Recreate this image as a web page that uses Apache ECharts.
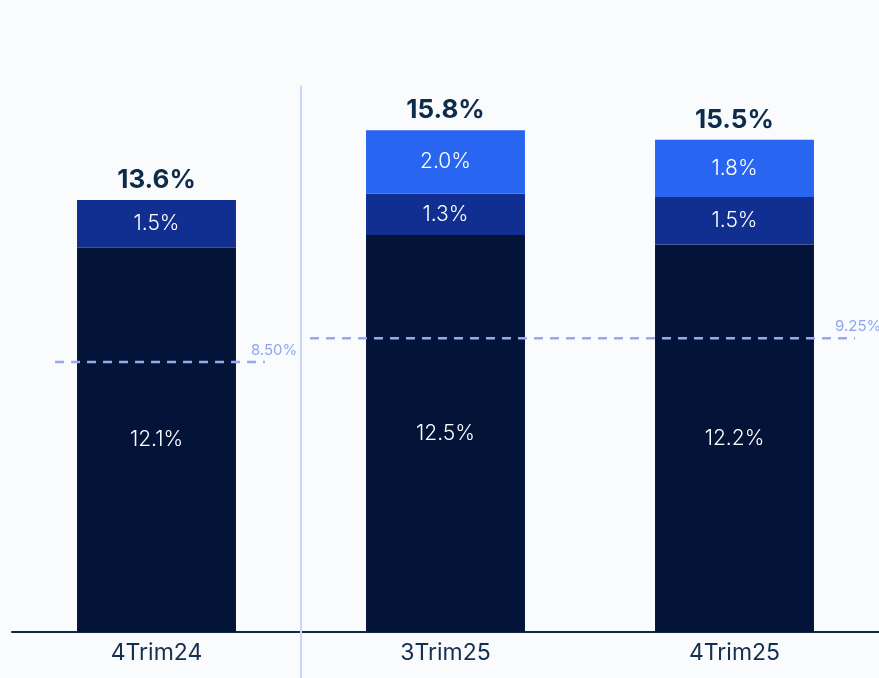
<!DOCTYPE html>
<html>
<head>
<meta charset="utf-8">
<script src="https://cdn.jsdelivr.net/npm/echarts@6/dist/echarts.min.js"></script>
<style>
  html, body { margin: 0; padding: 0; background: #fafbfd; }
  #chart { width: 879px; height: 678px; }
</style>
</head>
<body>
<div id="chart"></div>
<script>
// datos
const categories = ["4Trim24", "3Trim25", "4Trim25"];
const baseValues = [12.1, 12.5, 12.2];
const midValues = [1.5, 1.3, 1.5];
const topValues = [null, 2.0, 1.8];
const totals = [13.6, 15.8, 15.5];
const thresholds = [8.5, 9.25];
const thresholdLabels = ["8.50%", "9.25%"];
// tramo horizontal de cada umbral, en unidades de categoría
const thresholdSpans = [[0.149, 0.875], [1.031, 2.917]];

const colors = {
  base: "#041439",
  mid: "#112f91",
  top: "#2866f1",
  text: "#0d2b4a",
  dash: "#94acef",
  sep: "#c9d5fb",
};

const chart = echarts.init(document.getElementById("chart"));

const segLabel = {
  show: true,
  position: "inside",
  color: "#ffffff",
  fontFamily: "Inter",
  fontSize: 21,
  fontWeight: 300,
  formatter: (p) => p.value.toFixed(1) + "%",
};

const thresholdSeries = thresholds.map((v, i) => ({
  type: "line",
  xAxisIndex: 1,
  data: [[thresholdSpans[i][0], v], [thresholdSpans[i][1], v]],
  symbol: "none",
  silent: true,
  z: 5,
  lineStyle: { color: colors.dash, width: 2.5, type: [9, 7] },
  endLabel: {
    show: true,
    formatter: thresholdLabels[i],
    color: "#8ea6ee",
    fontFamily: "Inter",
    fontSize: 15,
    offset: [i === 0 ? -22 : -28, -12],
  },
}));

const option = {
  backgroundColor: "#fafbfd",
  animation: false,
  grid: { left: 12, right: 0, top: 0, bottom: 46 },
  xAxis: [
    {
      type: "category",
      data: categories,
      axisLine: { lineStyle: { color: "#0d2847", width: 2 } },
      axisTick: { show: false },
      axisLabel: {
        color: "#12304f",
        fontFamily: "Inter",
        fontSize: 23,
        margin: 10,
      },
    },
    { type: "value", min: 0, max: 3, show: false },
  ],
  yAxis: {
    type: "value",
    min: 0,
    max: 19.9,
    show: false,
    splitLine: { show: false },
  },
  series: [
    {
      name: "base",
      type: "bar",
      stack: "total",
      barWidth: "55%",
      data: baseValues,
      itemStyle: { color: colors.base },
      label: segLabel,
    },
    {
      name: "mid",
      type: "bar",
      stack: "total",
      data: midValues,
      itemStyle: { color: colors.mid },
      label: segLabel,
    },
    {
      name: "top",
      type: "bar",
      stack: "total",
      data: topValues,
      itemStyle: { color: colors.top },
      label: segLabel,
    },
    {
      name: "totales",
      type: "scatter",
      data: totals,
      symbolSize: 0,
      silent: true,
      itemStyle: { opacity: 1 },
      label: {
        show: true,
        position: "top",
        distance: 7,
        color: colors.text,
        opacity: 1,
        fontFamily: "Inter",
        fontSize: 26,
        fontWeight: "bold",
        formatter: (p) => p.value.toFixed(1) + "%",
      },
    },
    // separador vertical entre 4Trim24 y 3Trim25
    {
      type: "line",
      xAxisIndex: 1,
      data: [[1, 17.2], [1, -1.5]],
      symbol: "none",
      silent: true,
      clip: false,
      z: 1,
      lineStyle: { color: colors.sep, width: 2 },
    },
    ...thresholdSeries,
  ],
};

chart.setOption(option);
</script>
</body>
</html>
